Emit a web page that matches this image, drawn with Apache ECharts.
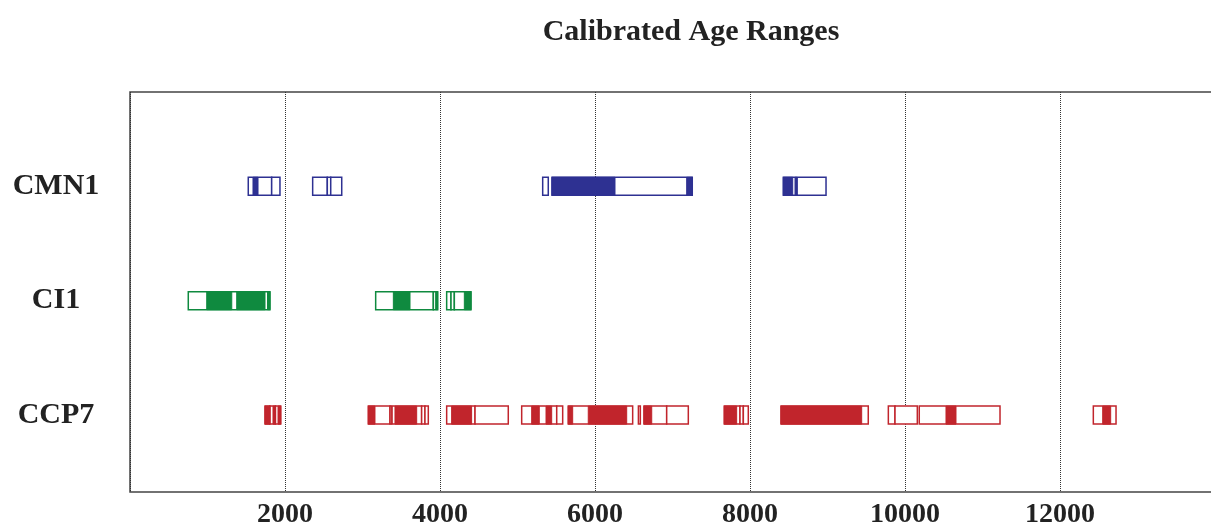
<!DOCTYPE html>
<html><head><meta charset="utf-8">
<script src="https://cdn.jsdelivr.net/npm/echarts@6/dist/echarts.min.js"></script>
<style>html,body{margin:0;padding:0;background:#fff}#c{width:1211px;height:529px}</style>
</head><body><div id="c"></div>
<script>
const title = 'Calibrated Age Ranges';
const rows = ['CCP7', 'CI1', 'CMN1'];
const xTicks = [2000, 4000, 6000, 8000, 10000, 12000];

// outlined boxes [start, end] (cal BP)
const cmn1Boxes = [[1526,1828],[1828,1935],[2357,2546],[2546,2590],[2590,2732],[5325,5397],[5445,7255],[8430,8981]];
const cmn1Fills = [[1587,1652],[5445,6258],[7183,7255],[8430,8551],[8581,8611]];

const ci1Boxes = [[752,1806],[3170,3914],[3914,3970],[4086,4142],[4142,4185],[4185,4400]];
const ci1Fills = [[990,1313],[1377,1742],[1774,1806],[3398,3613],[3944,3970],[4314,4400]];

const ccp7Boxes = [[1742,1806],[1806,1877],[1877,1945],[3075,3355],[3355,3763],[3763,3806],[3806,3849],
  [4086,4452],[4452,4881],[5054,5506],[5506,5583],[5655,6486],[6560,6585],[6632,6925],[6925,7204],
  [7668,7871],[7871,7914],[7914,7978],[8400,9526],[9785,9871],[9871,10159],[10184,11226],[12430,12723]];
const ccp7Fills = [[1742,1806],[1845,1877],[1910,1945],[3075,3161],[3370,3384],[3419,3699],
  [4150,4408],[5183,5281],[5368,5441],[5655,5712],[5913,6409],[6632,6732],[7668,7828],[8400,9441],[10529,10658],[12551,12654]];

const colors = { CMN1: '#2e3192', CI1: '#0f8a3f', CCP7: '#c1252c' };

function build(boxes, fills, rowIdx) {
  const d = [];
  boxes.forEach(b => d.push([b[0], b[1], rowIdx, 0]));
  fills.forEach(f => d.push([f[0], f[1], rowIdx, 1]));
  return d;
}

function mkSeries(name, boxes, fills) {
  const idx = rows.indexOf(name);
  const col = colors[name];
  return {
    type: 'custom', name: name,
    data: build(boxes, fills, idx),
    encode: { x: [0, 1], y: 2 },
    renderItem: function (params, api) {
      const p0 = api.coord([api.value(0), api.value(2)]);
      const p1 = api.coord([api.value(1), api.value(2)]);
      const h = 18;
      const filled = api.value(3) === 1;
      return {
        type: 'rect',
        z2: filled ? 2 : 1,
        shape: { x: p0[0], y: p0[1] - h / 2, width: p1[0] - p0[0], height: h },
        style: filled ? { fill: col, stroke: col, lineWidth: 1 } : { fill: '#fff', stroke: col, lineWidth: 1.5 }
      };
    }
  };
}

const chart = echarts.init(document.getElementById('c'), null, { renderer: 'canvas' });
chart.setOption({
  animation: false,
  backgroundColor: '#fff',
  title: {
    text: title, left: 686, top: 12, textAlign: 'center',
    textStyle: { fontFamily: 'Liberation Serif', fontWeight: 'bold', fontSize: 30, color: '#222' }
  },
  grid: { left: 130, top: 92, width: 1085, bottom: 37, show: true, borderColor: '#444', borderWidth: 1.5,
          backgroundColor: 'transparent', outerBoundsMode: 'none', containLabel: false },
  xAxis: {
    type: 'value', min: 0, max: 14000, interval: 2000,
    axisLine: { show: false }, axisTick: { show: false },
    splitLine: { show: true, lineStyle: { type: 'dotted', color: '#333', width: 1 } },
    axisLabel: {
      showMinLabel: false, showMaxLabel: false, margin: 9,
      fontFamily: 'Liberation Serif', fontWeight: 'bold', fontSize: 28, color: '#222',
      formatter: v => xTicks.indexOf(v) >= 0 ? String(v) : ''
    }
  },
  yAxis: {
    type: 'value', min: -0.672, max: 2.824,
    axisLine: { show: false }, axisTick: { show: false }, splitLine: { show: false },
    axisLabel: {
      customValues: [0, 1, 2], margin: 74, align: 'center',
      fontFamily: 'Liberation Serif', fontWeight: 'bold', fontSize: 30, color: '#222',
      formatter: v => rows[Math.round(v)] || ''
    }
  },
  series: [
    mkSeries('CMN1', cmn1Boxes, cmn1Fills),
    mkSeries('CI1', ci1Boxes, ci1Fills),
    mkSeries('CCP7', ccp7Boxes, ccp7Fills)
  ]
});
</script></body></html>
